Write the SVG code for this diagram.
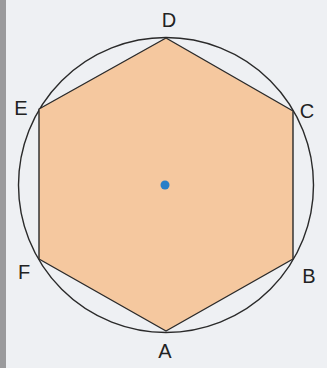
<svg xmlns="http://www.w3.org/2000/svg" width="327" height="368" viewBox="0 0 327 368">
<style>
.lbl{font-family:"Liberation Sans",Arial,sans-serif;font-size:20px;fill:#222;text-anchor:middle}
</style>
<rect x="0" y="0" width="327" height="368" fill="#eef0f3"/>
<rect x="0" y="0" width="6" height="368" fill="#9a9a9c"/>
<g id="circle"><circle cx="166" cy="185" r="147.5" fill="none" stroke="#2a2a2a" stroke-width="1.4"/></g>
<g id="hexagon"><polygon points="166,38 293,111 293,259 166,331 39,259 39,109" fill="#f5c89f" stroke="#2a2a2a" stroke-width="1.4" stroke-linejoin="round"/></g>
<g id="center"><circle cx="165" cy="185" r="4.5" fill="#2a7fc8"/></g>
<g id="labels">
<text class="lbl" x="169" y="27">D</text>
<text class="lbl" x="21" y="115">E</text>
<text class="lbl" x="307" y="118">C</text>
<text class="lbl" x="24" y="279">F</text>
<text class="lbl" x="309" y="283">B</text>
<text class="lbl" x="165" y="358">A</text>
</g>
</svg>
